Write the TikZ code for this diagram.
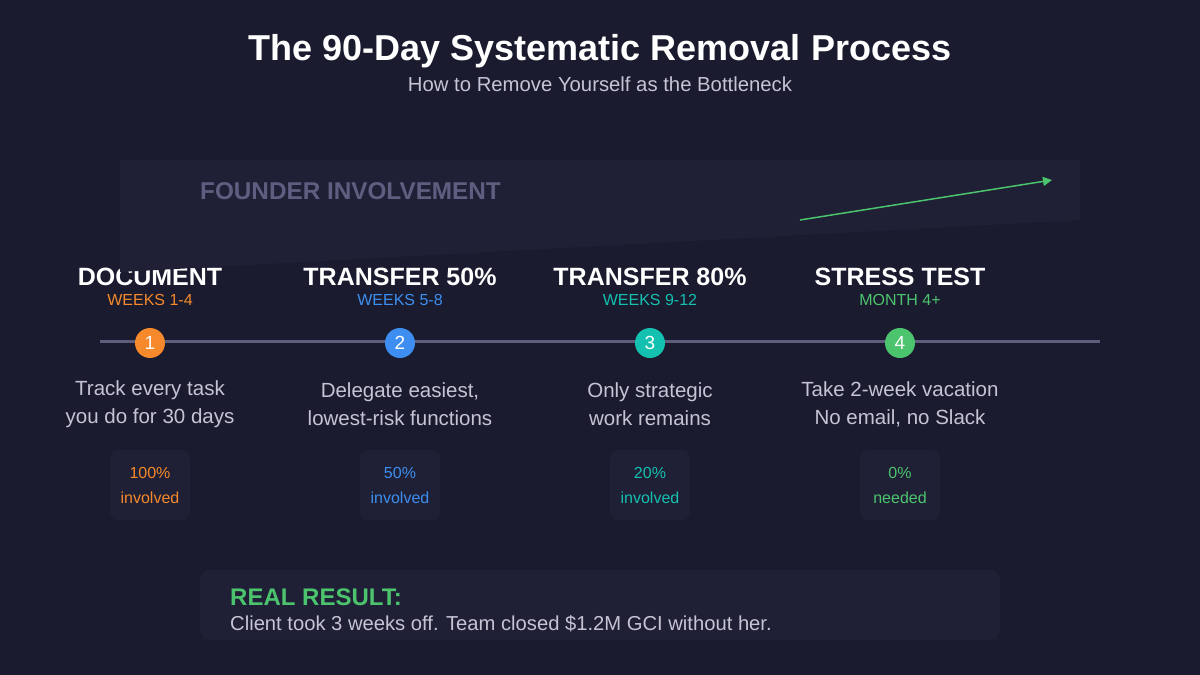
\documentclass[tikz,border=0pt]{standalone}
\usepackage{fontspec}
\setmainfont{Liberation Sans}
\usetikzlibrary{arrows.meta,positioning}
\definecolor{bgcol}{HTML}{1A1B2E}
\definecolor{panelcol}{HTML}{1F2035}
\definecolor{linecol}{HTML}{5E5E7C}
\definecolor{txtcol}{HTML}{C4C4D4}
\definecolor{mutedcol}{HTML}{5E5F80}
\definecolor{orangecol}{HTML}{F5892B}
\definecolor{bluecol}{HTML}{3D8EF0}
\definecolor{tealcol}{HTML}{14C0B0}
\definecolor{greencol}{HTML}{4CC46E}
\tikzset{
  heading/.style={text=white,font=\fontsize{25}{27}\selectfont\bfseries,inner sep=0pt},
  period/.style={font=\fontsize{16}{18}\selectfont,inner sep=0pt},
  stepdot/.style={circle,minimum size=30pt,inner sep=0pt,text=white,font=\fontsize{19}{20}\selectfont},
  desc/.style={text=txtcol,font=\fontsize{20.5}{28}\selectfont,align=center,inner sep=0pt},
  stat/.style={fill=panelcol,rounded corners=8pt,minimum width=80pt,minimum height=70pt,align=center,
    font=\fontsize{16}{25}\selectfont,inner sep=0pt},
}
\begin{document}
\begin{tikzpicture}[x=1pt,y=-1pt]
   \fill[bgcol] (0,0) rectangle (1200,675);
   \useasboundingbox (0,0) rectangle (1200,675);
   % title
   \node[text=white,font=\fontsize{36}{38}\selectfont\bfseries] (title) at (600,51) {The 90-Day Systematic Removal Process};
   \node[text=txtcol,font=\fontsize{20.3}{22}\selectfont] (subtitle) at (600,84) {How to Remove Yourself as the Bottleneck};
   % headings
   \node[heading] (h1) at (150,277) {DOCUMENT};
   \node[heading] (h2) at (400,277) {TRANSFER 50\%};
   \node[heading] (h3) at (650,277) {TRANSFER 80\%};
   \node[heading] (h4) at (900,277) {STRESS TEST};
   % involvement panel
   \fill[panelcol] (120,160) -- (1080,160) -- (1080,220) -- (120,272) -- cycle;
   \node[text=mutedcol,font=\fontsize{24.3}{26}\selectfont\bfseries,anchor=west,inner sep=0pt] (inv) at (200,191) {FOUNDER INVOLVEMENT};
   \coordinate (a0) at (800,220);
   \coordinate (a1) at (1052,180);
   \draw[greencol,line width=1.5pt,-{Triangle[length=9pt,width=9pt]}] (a0) -- (a1);
   % periods
   \node[period,text=orangecol] (p1) at (150,300) {WEEKS 1-4};
   \node[period,text=bluecol] (p2) at (400,300) {WEEKS 5-8};
   \node[period,text=tealcol] (p3) at (650,300) {WEEKS 9-12};
   \node[period,text=greencol] (p4) at (900,300) {MONTH 4+};
   % timeline
   \coordinate (t0) at (100,341);
   \coordinate (t1) at (1100,341);
   \draw[linecol,line width=3pt] (t0) -- (t1);
   \node[stepdot,fill=orangecol] (s1) at (150,343) {1};
   \node[stepdot,fill=bluecol] (s2) at (400,343) {2};
   \node[stepdot,fill=tealcol] (s3) at (650,343) {3};
   \node[stepdot,fill=greencol] (s4) at (900,343) {4};
   % descriptions
   \node[desc] (d1) at (150,404) {Track every task\\you do for 30 days};
   \node[desc] (d2) at (400,404) {Delegate easiest,\\lowest-risk functions};
   \node[desc] (d3) at (650,404) {Only strategic\\work remains};
   \node[desc] (d4) at (900,404) {Take 2-week vacation\\No email, no Slack};
   % stats
   \node[stat,text=orangecol] (b1) at (150,485) {100\%\\involved};
   \node[stat,text=bluecol] (b2) at (400,485) {50\%\\involved};
   \node[stat,text=tealcol] (b3) at (650,485) {20\%\\involved};
   \node[stat,text=greencol] (b4) at (900,485) {0\%\\needed};
   % result
   \fill[panelcol,rounded corners=10pt] (200,570) rectangle (1000,640);
   \node[text=greencol,font=\fontsize{24}{26}\selectfont\bfseries,anchor=west,inner sep=0pt] (res) at (230,597) {REAL RESULT:};
   \node[text=txtcol,font=\fontsize{20.2}{22}\selectfont,anchor=west,inner sep=0pt] (resb) at (230,624) {Client took 3 weeks off. Team closed \$1.2M GCI without her.};
\end{tikzpicture}
\end{document}
